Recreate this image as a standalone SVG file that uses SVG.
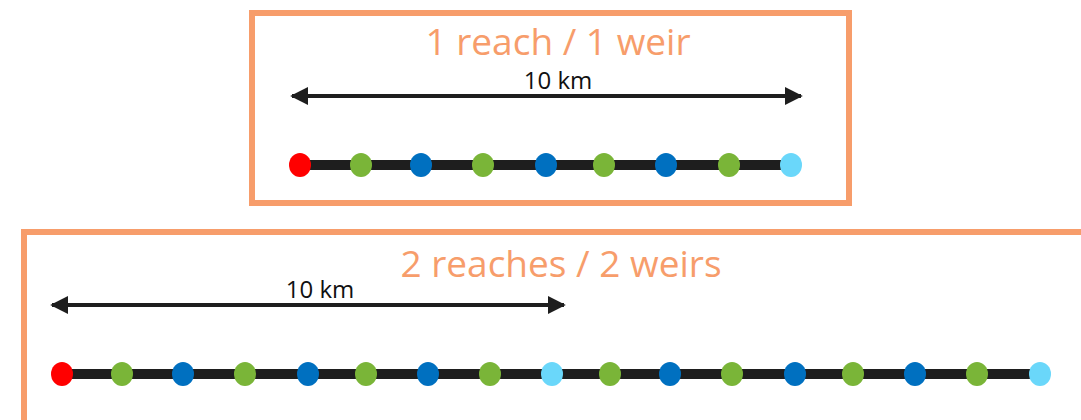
<svg xmlns="http://www.w3.org/2000/svg" width="1081" height="420" viewBox="0 0 1081 420">
<style>
.frame{fill:none;stroke:#F79D6B;stroke-width:6}
.title{font-family:"Open Sans","Liberation Sans",sans-serif;font-size:37px;fill:#F79D6B;text-anchor:middle}
.lbl{font-family:"Open Sans","Liberation Sans",sans-serif;font-size:24px;fill:#111;text-anchor:middle}
.dim{stroke:#1E1E1E;stroke-width:4;marker-start:url(#ah);marker-end:url(#ah)}
.river{stroke:#1E1E1E;stroke-width:10}
.r{fill:#FF0000}.g{fill:#7AB538}.b{fill:#0070C0}.c{fill:#6AD7FA}
</style>
<defs>
<marker id="ah" viewBox="0 0 10 10" refX="9" refY="5" markerWidth="4.5" markerHeight="4.5" orient="auto-start-reverse" markerUnits="strokeWidth">
<path d="M0,0 L10,5 L0,10 Z" fill="#1E1E1E"/>
</marker>
</defs>
<rect width="1081" height="420" fill="#fff"/>
<g id="box1">
<rect class="frame" x="252" y="13" width="597" height="190"/>
<text class="title" x="558" y="55">1 reach / 1 weir</text>
</g>
<g id="box2">
<rect class="frame" x="24" y="232" width="1070" height="200"/>
<text class="title" x="561" y="277">2 reaches / 2 weirs</text>
</g>
<g id="connectors">
<line class="dim" x1="292" y1="96" x2="801" y2="96"/>
<line class="dim" x1="52" y1="305" x2="564" y2="305"/>
<line class="river" x1="300" y1="165" x2="791" y2="165"/>
<line class="river" x1="62" y1="374" x2="1040" y2="374"/>
</g>
<g id="labels">
<text class="lbl" x="558" y="89">10 km</text>
<text class="lbl" x="320" y="298">10 km</text>
</g>
<g id="row1">
<ellipse class="r" cx="300" cy="165" rx="11" ry="12"/>
<ellipse class="g" cx="361" cy="165" rx="11" ry="12"/>
<ellipse class="b" cx="421" cy="165" rx="11" ry="12"/>
<ellipse class="g" cx="483" cy="165" rx="11" ry="12"/>
<ellipse class="b" cx="546" cy="165" rx="11" ry="12"/>
<ellipse class="g" cx="604" cy="165" rx="11" ry="12"/>
<ellipse class="b" cx="666" cy="165" rx="11" ry="12"/>
<ellipse class="g" cx="729" cy="165" rx="11" ry="12"/>
<ellipse class="c" cx="791" cy="165" rx="11" ry="12"/>
</g>
<g id="row2">
<ellipse class="r" cx="62" cy="374" rx="11" ry="12"/>
<ellipse class="g" cx="122" cy="374" rx="11" ry="12"/>
<ellipse class="b" cx="183" cy="374" rx="11" ry="12"/>
<ellipse class="g" cx="245" cy="374" rx="11" ry="12"/>
<ellipse class="b" cx="308" cy="374" rx="11" ry="12"/>
<ellipse class="g" cx="366" cy="374" rx="11" ry="12"/>
<ellipse class="b" cx="428" cy="374" rx="11" ry="12"/>
<ellipse class="g" cx="490" cy="374" rx="11" ry="12"/>
<ellipse class="c" cx="552" cy="374" rx="11" ry="12"/>
<ellipse class="g" cx="610" cy="374" rx="11" ry="12"/>
<ellipse class="b" cx="670" cy="374" rx="11" ry="12"/>
<ellipse class="g" cx="732" cy="374" rx="11" ry="12"/>
<ellipse class="b" cx="795" cy="374" rx="11" ry="12"/>
<ellipse class="g" cx="853" cy="374" rx="11" ry="12"/>
<ellipse class="b" cx="915" cy="374" rx="11" ry="12"/>
<ellipse class="g" cx="977" cy="374" rx="11" ry="12"/>
<ellipse class="c" cx="1040" cy="374" rx="11" ry="12"/>
</g>
</svg>
